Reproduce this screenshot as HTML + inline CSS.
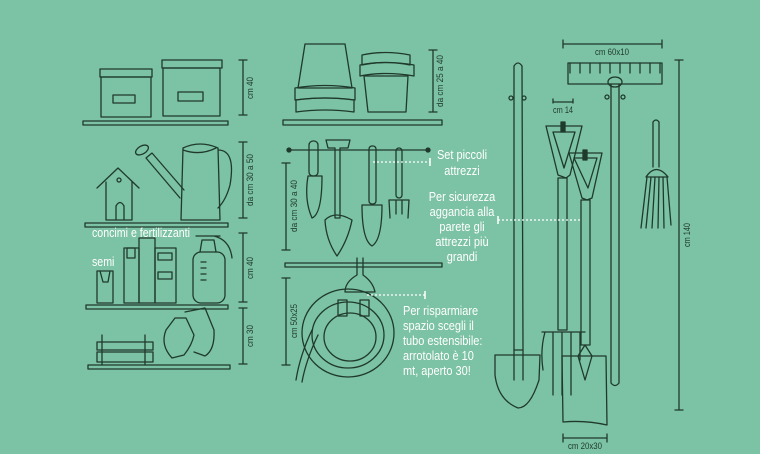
<!DOCTYPE html>
<html><head><meta charset="utf-8"><style>
html,body{margin:0;padding:0;background:#7cc2a4;}
svg{display:block}
text{font-family:"Liberation Sans Narrow","Liberation Sans",sans-serif;}
.w{fill:#fff;font-size:12.5px}
.d{fill:#1f3a2c;font-size:9px}
</style></head><body>
<svg width="760" height="454" viewBox="0 0 760 454" xmlns="http://www.w3.org/2000/svg">
<rect width="760" height="454" fill="#7cc2a4"/>
<g fill="none" stroke="#1f3a2c" stroke-width="1.3" stroke-linecap="round" stroke-linejoin="round">
<rect x="83" y="121" width="145" height="4"/><rect x="85" y="223" width="143" height="4"/>
<rect x="86" y="305" width="142" height="4"/><rect x="88" y="365" width="142" height="4"/>
<rect x="100" y="69" width="52" height="8"/><rect x="101" y="77" width="50" height="40"/><rect x="113" y="95" width="22" height="8"/>
<rect x="162" y="60" width="60" height="8"/><rect x="163" y="68" width="57" height="48"/><rect x="178" y="92" width="25" height="9"/>
<path d="M181 220 L183 148 Q200 140 218 148 L220 220 Z"/><path d="M183 150 Q200 156 216 148"/>
<path d="M218 150 Q236 150 230 185 Q226 200 218 208"/>
<path d="M184 190 L152 153 L146 158 L180 198"/><ellipse cx="142" cy="150" rx="7" ry="4" transform="rotate(-30 142 150)"/>
<path d="M97 188 L118 168 L139 188 M106 182 L106 220 L132 220 L132 182"/><path d="M116 220 L116 206 Q120 199 124 206 L124 220"/><circle cx="119" cy="180" r="2"/>
<rect x="97" y="271" width="16" height="32"/><path d="M100 271 L103 282 L108 282 L110 271"/>
<rect x="124" y="248" width="15" height="55"/><rect x="139" y="238" width="16" height="65"/><rect x="155" y="248" width="21" height="55"/>
<rect x="127" y="248" width="8" height="10"/><rect x="158" y="253" width="14" height="7"/><rect x="158" y="272" width="14" height="7"/>
<rect x="193" y="252" width="32" height="51" rx="8"/><path d="M200 252 L202 240 L214 240 L216 252 M196 236 L220 236 M214 236 Q230 240 232 258"/><path d="M201 262 h5 M201 268 h5 M201 274 h5 M201 280 h5"/>
<rect x="97" y="342" width="56" height="8"/><rect x="97" y="352" width="56" height="10"/><path d="M102 335 v30 M145 335 v30"/>
<path d="M166 330 Q160 345 172 358 L184 355 Q192 345 194 335 L186 318 L175 318 Z"/><path d="M185 312 L205 308 L214 330 Q215 350 205 356 L194 352"/>
<path d="M243 60 v55 M239 60 h8 M239 115 h8 M243 142 v76 M239 142 h8 M239 218 h8 M243 233 v69 M239 233 h8 M239 302 h8 M243 308 v56 M239 308 h8 M239 364 h8"/>
<path d="M305 44 L345 44 L352 88 L298 88 Z"/><path d="M295 88 Q325 83 355 88 L355 100 Q325 96 295 100 Z"/><path d="M296 100 Q325 96 354 100 L354 112 Q325 108 296 112 Z"/>
<path d="M362 55 Q385 50 410 55 L410 65 Q385 60 362 65 Z"/><path d="M360 65 Q385 60 414 65 L414 76 Q385 71 360 76 Z"/><path d="M364 76 L408 76 L406 112 L368 112 Z"/>
<rect x="283" y="120" width="159" height="5"/>
<path d="M433 50 v62 M429 50 h8 M429 112 h8"/>
<path d="M289 150 L428 150"/><circle cx="289" cy="150" r="2" fill="#1f3a2c"/><circle cx="428" cy="150" r="2" fill="#1f3a2c"/>
<rect x="309" y="141" width="9" height="35" rx="4"/><path d="M308 176 Q304 200 312 218 Q322 214 322 176 Z"/>
<path d="M326 140 L350 140 L348 148 L340 148 L340 218 L335 218 L335 148 L328 148 Z"/><path d="M325 220 Q335 210 352 220 Q348 240 337 256 Q326 240 325 220 Z"/>
<rect x="369" y="146" width="7" height="58" rx="3"/><path d="M362 205 L382 205 Q382 240 372 246 Q362 240 362 205 Z"/>
<rect x="396" y="148" width="6" height="50" rx="3"/><path d="M389 200 L409 200 L408 218 M389 200 L390 218 M396 200 L396 214 M402 200 L402 214"/>
<path d="M286 163 v87 M282 163 h8 M282 250 h8"/>
<rect x="285" y="263" width="157" height="4"/>
<path d="M357 258 L357 275 Q345 282 345 292 L375 292 Q373 282 363 275 L363 258"/>
<ellipse cx="348" cy="333" rx="46" ry="44"/><ellipse cx="348" cy="335" rx="36" ry="33"/><ellipse cx="350" cy="337" rx="26" ry="24"/>
<path d="M312 330 Q300 355 296 380 M318 335 Q306 360 302 382"/><rect x="338" y="300" width="9" height="16"/><rect x="360" y="300" width="9" height="16"/>
<path d="M286 278 v87 M282 278 h8 M282 365 h8"/>
<path d="M514 66 Q518 60 522 66 L523 350 L514 350 Z"/><circle cx="511" cy="98" r="2"/><circle cx="524" cy="98" r="2"/>
<path d="M495 355 L540 355 L539 380 Q530 408 518 408 Q498 400 495 375 Z"/><path d="M514 350 L514 380 M523 350 L523 380"/>
<path d="M546 126 L582 126 L570 175 L566 178 L558 175 Z"/><path d="M553 132 L575 132 L564 168 Z"/><rect x="561" y="122" width="4" height="10" fill="#1f3a2c"/>
<rect x="558" y="178" width="9" height="152"/><path d="M542 332 L585 332 M545 332 Q540 350 543 370 M553 332 L553 395 M562 332 L562 395 M571 332 L571 395 M580 332 L580 360"/>
<path d="M569 153 L602 153 L592 198 L587 200 L582 198 Z"/><path d="M574 158 L597 158 L588 188 Z"/><rect x="583" y="150" width="4" height="10" fill="#1f3a2c"/>
<rect x="581" y="200" width="9" height="145"/><path d="M562 356 L606 356 L607 425 Q585 420 563 422 Z"/><path d="M578 356 L585 345 L592 356 L585 380 Z"/>
<rect x="568" y="63" width="94" height="21"/><path d="M570 63 v10 M580 63 v10 M590 63 v10 M600 63 v10 M610 63 v10 M620 63 v10 M630 63 v10 M640 63 v10 M650 63 v10 M660 63 v10"/>
<path d="M611 84 L611 383 Q615 388 619 383 L619 84"/><ellipse cx="615" cy="82" rx="7" ry="5"/><circle cx="607" cy="97" r="2"/><circle cx="623" cy="97" r="2"/>
<path d="M653 122 Q656 118 659 122 L659 167 M653 122 L653 167"/><path d="M646 177 Q656 162 668 177 Z"/><path d="M647 177 L641 228 M651 177 L646 228 M655 177 L652 228 M659 177 L658 228 M663 177 L664 228 M667 177 L671 225"/>
<path d="M563 44 h99 M563 40 v8 M662 40 v8 M553 102 h20 M553 99 v4 M573 99 v4 M679 60 v350 M675 60 h8 M675 410 h8 M563 438 h44 M563 434 v8 M607 434 v8"/>
</g>
<g stroke="#fff" stroke-width="1.2" stroke-dasharray="2 2"><path d="M373 162 H430 M498 220 H580 M367 295 H425"/></g>
<g stroke="#fff" stroke-width="1.5"><path d="M430 158 v8 M498 216 v8 M425 291 v8"/></g>
<g transform="translate(92 0) scale(0.85 1) translate(-92 0)">
<text class="w" x="92" y="237">concimi e fertilizzanti</text>
<text class="w" x="92" y="266">semi</text>
</g>
<g class="w" text-anchor="middle" transform="translate(462 0) scale(0.88 1) translate(-462 0)"><text x="462" y="159">Set piccoli</text><text x="462" y="175">attrezzi</text>
<text x="462" y="201">Per sicurezza</text><text x="462" y="216">aggancia alla</text><text x="462" y="231">parete gli</text><text x="462" y="246">attrezzi più</text><text x="462" y="261">grandi</text></g>
<g class="w" transform="translate(403 0) scale(0.88 1) translate(-403 0)"><text x="403" y="315">Per risparmiare</text><text x="403" y="330">spazio scegli il</text><text x="403" y="345">tubo estensibile:</text><text x="403" y="360">arrotolato è 10</text><text x="403" y="375">mt, aperto 30!</text></g>
<g class="d">
<text transform="translate(253 88) rotate(-90)" text-anchor="middle" textLength="22" lengthAdjust="spacingAndGlyphs">cm 40</text>
<text transform="translate(253 180) rotate(-90)" text-anchor="middle" textLength="52" lengthAdjust="spacingAndGlyphs">da cm 30 a 50</text>
<text transform="translate(253 268) rotate(-90)" text-anchor="middle" textLength="22" lengthAdjust="spacingAndGlyphs">cm 40</text>
<text transform="translate(253 336) rotate(-90)" text-anchor="middle" textLength="22" lengthAdjust="spacingAndGlyphs">cm 30</text>
<text transform="translate(443 81) rotate(-90)" text-anchor="middle" textLength="52" lengthAdjust="spacingAndGlyphs">da cm 25 a 40</text>
<text transform="translate(297 206) rotate(-90)" text-anchor="middle" textLength="52" lengthAdjust="spacingAndGlyphs">da cm 30 a 40</text>
<text transform="translate(297 321) rotate(-90)" text-anchor="middle" textLength="34" lengthAdjust="spacingAndGlyphs">cm 50x25</text>
<text transform="translate(690 235) rotate(-90)" text-anchor="middle" textLength="24" lengthAdjust="spacingAndGlyphs">cm 140</text>
<text x="612" y="55" text-anchor="middle" textLength="34" lengthAdjust="spacingAndGlyphs">cm 60x10</text>
<text x="563" y="113" text-anchor="middle" textLength="20" lengthAdjust="spacingAndGlyphs">cm 14</text>
<text x="585" y="449" text-anchor="middle" textLength="34" lengthAdjust="spacingAndGlyphs">cm 20x30</text>
</g>
</svg>
</body></html>
